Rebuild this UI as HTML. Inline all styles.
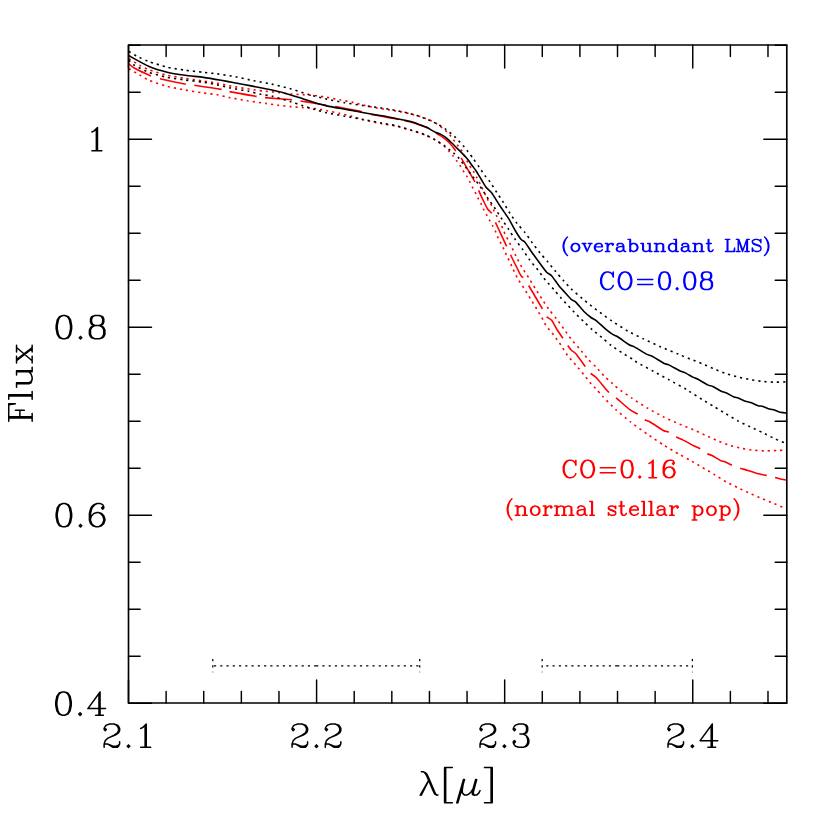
<!DOCTYPE html>
<html><head><meta charset="utf-8"><title>CO flux</title>
<style>html,body{margin:0;padding:0;background:#fff;font-family:"Liberation Sans",sans-serif}svg{display:block}</style></head>
<body>
<svg width="830" height="830" viewBox="0 0 830 830">
<rect width="830" height="830" fill="#fff"/>
<g fill="none" stroke-linejoin="round">
<path d="M128.9 58.7C130.08 59.43 137.26 64.06 139.5 65.3C141.74 66.54 146.02 68.8 149.1 69.9C152.18 71 163.19 74.27 167.2 75.2C171.21 76.13 181.19 77.66 185.2 78.3C189.21 78.94 199.72 80.47 203.3 81C206.88 81.53 214.49 82.57 217.4 83.1C220.31 83.63 225.48 85.06 229.5 85.8C233.52 86.54 249.59 89.19 253.6 89.8C257.61 90.41 262.92 91.01 265.6 91.3C268.28 91.59 274.89 92.1 277.7 92.4C280.51 92.7 288.09 93.73 290.9 94C293.71 94.27 300.32 94.63 303 94.8C305.68 94.97 312.37 95.22 315 95.5C317.63 95.78 323.86 96.8 326.7 97.3C329.54 97.8 337.68 99.43 340.6 100C343.52 100.57 350.28 101.79 353 102.4C355.72 103.01 362.42 104.87 365.1 105.5C367.78 106.13 374.41 107.61 377.1 108.1C379.79 108.59 386.76 109.51 389.3 109.9C391.84 110.29 397.62 111.16 400 111.6C402.38 112.04 407.91 113.17 410.7 113.9C413.49 114.63 422.16 117.08 425.1 118.2C428.04 119.32 434.79 122.49 437.2 124C439.61 125.51 445.27 130.42 446.8 131.8C448.33 133.18 450.13 135.33 451 136.4C451.87 137.47 453.79 140.3 454.6 141.4C455.41 142.5 457.49 145.22 458.3 146.3C459.11 147.38 460.83 149.29 461.9 151.1C462.97 152.91 466.89 160.72 467.9 162.6C468.91 164.48 470.29 166.89 471 168C471.71 169.11 473.62 171.49 474.3 172.6C474.98 173.71 476.42 176.7 477.1 178C477.78 179.3 479.17 181.79 480.4 184.3C481.63 186.81 486.93 198.22 488.2 200.6C489.47 202.98 491.13 204.5 491.8 205.7C492.47 206.9 493.6 210.16 494.2 211.4C494.8 212.64 496.6 215.69 497.2 216.9C497.8 218.11 498.99 221.03 499.6 222.3C500.21 223.57 502.09 226.97 502.7 228.3C503.31 229.63 504.5 233.02 505.1 234.3C505.7 235.58 507.43 238.52 508.1 239.8C508.77 241.08 510.23 244.01 511.1 245.8C511.97 247.59 514.7 253.51 515.9 255.9C517.1 258.29 520.49 264.89 521.9 267.3C523.31 269.71 527.12 275.26 528.6 277.6C530.08 279.94 533.73 286.06 535.2 288.4C536.67 290.74 540.27 296.36 541.8 298.7C543.33 301.04 547.36 307.24 549 309.5C550.64 311.76 554.92 316.81 556.6 319C558.28 321.19 562.47 326.93 564.1 329.2C565.73 331.47 569.56 337.2 571.3 339.4C573.04 341.6 577.99 346.86 579.8 349C581.61 351.14 585.8 356.69 587.6 358.7C589.4 360.71 594.16 365.18 596 367.1C597.84 369.02 602.39 374.19 604.2 376C606.01 377.81 610.82 382.06 612.3 383.4C613.78 384.74 615.32 386.46 617.5 388.1C619.68 389.74 628.53 395.96 631.9 398.2C635.27 400.44 644.27 406.21 647.8 408.3C651.33 410.39 660.17 415.23 663.7 417C667.23 418.77 676.28 422.78 679.6 424.2C682.92 425.62 690.7 428.56 693.6 429.8C696.5 431.04 703.02 434.18 705.7 435.4C708.38 436.62 715.02 439.69 717.7 440.8C720.38 441.91 727.12 444.56 729.8 445.4C732.48 446.24 739.12 447.86 741.8 448.4C744.48 448.94 751.22 450.02 753.9 450.3C756.58 450.58 763.22 450.88 765.9 450.9C768.58 450.92 775.68 450.6 778 450.5C780.32 450.4 785.82 450.06 786.8 450" stroke="#f00" stroke-width="1.6" stroke-dasharray="2.15 4.02 2.15 4.02 2.15 4.02 2.15 4.02 2.15 4.02 2.15 4.02 2.15 4.02 2.15 4.02 2.15 4.02 2.15 4.02 2.15 4.02 2.15 4.02 2.15 4.02 2.15 4.02 2.15 4.02 2.15 4.02 2.15 4.02 2.15 4.02 2.15 4.02 2.15 4.02 2.15 4.02 2.15 4.02 2.15 4.02 2.15 4.02 2.15 4.02 2.15 4.02 2.15 4.02 2.15 4.02 2.15 4.02 2.15 4.02 2.15 4.02 2.15 4.02 2.15 4.02 2.15 4.02 2.15 4.05 2.15 4.05 2.15 4.05 2.15 4.05 2.15 4.05 2.15 4.05 2.15 4.05 2.15 4.05 2.15 4.05 2.15 4.05 2.15 4.05 2.15 4.05 2.15 4.05 2.15 4.05 2.15 4.05 2.15 4.05 2.15 4.05 2.15 4.05 2.15 4.05 2.15 4.05 2.15 4.05 2.15 4.05 2.15 4.05 2.15 4.05 2.15 4.05 2.15 4.05 2.15 4.05 2.15 4.05 2.15 4.05 2.15 4.05 2.15 4.05 2.15 4.05 2.15 4.05 2.15 4.05 2.15 4.05 2.15 4.05 2.15 4.05 2.15 4.05 2.15 4.05 2.15 4.05 2.15 4.05 2.15 4.05 2.15 4.05 2.15 4.05 2.15 4.05 2.15 4.05 2.15 4.05 2.15 4.05 2.15 4.05 2.15 4.05 2.15 4.05 2.15 4.05 2.15 4.05 2.15 4.05 2.15 4.05 2.15 4.05 2.15 4.05 2.15 4.05 2.15 4.05 2.15 4.05 2.15 4.05 2.15 4.05 2.15 4.05 2.15 4.05 2.15 4.05 2.15 4.05 2.15 4.05 2.15 4.05 2.15 4.05 2.15 4.05 2.15 4.05 2.15 4.05 2.15 4.05 2.15 4.05 2.15 4.05 2.15 4.05 2.15 4.05 2.15 4.05 2.15 4.05 2.15 4.05 2.15 4.05 2.15 4.05 2.15 4.05 2.15 4.05 2.15 4.05 2.15 4.05 2.15 4.05 2.15 4.05 2.15 4.05 2.15 4.05 2.15 4.05 2.15 4.05 2.15 4.05 2.15 4.05 2.15 4.05 2.15 4.05 2.15 4.05 2.15 4.05 2.15 4.05 2.15 40"/>
<path d="M128.9 68.7C130.08 69.39 137.26 73.6 139.5 74.9C141.74 76.2 146.02 79.12 149.1 80.4C152.18 81.68 163.19 85.33 167.2 86.4C171.21 87.47 181.19 89.27 185.2 90C189.21 90.73 199.72 92.47 203.3 93C206.88 93.53 214.49 94.29 217.4 94.8C220.31 95.31 226.16 96.93 229.5 97.6C232.84 98.27 243.49 100.16 247.5 100.8C251.51 101.44 262.24 102.91 265.6 103.4C268.96 103.89 274.89 104.84 277.7 105.2C280.51 105.56 288.09 106.33 290.9 106.6C293.71 106.87 300.32 107.38 303 107.6C305.68 107.82 312.37 108.26 315 108.6C317.63 108.94 323.99 110.17 326.7 110.7C329.41 111.23 336.62 112.79 339.4 113.4C342.18 114.01 349.04 115.5 351.7 116.2C354.36 116.9 359.97 118.87 363.3 119.7C366.63 120.53 378.18 123.01 381.7 123.7C385.22 124.39 391.78 125.18 395 125.9C398.22 126.62 407.36 129.2 410.7 130.2C414.04 131.2 422.42 133.83 425.1 134.9C427.78 135.97 432.59 138.47 434.8 139.8C437.01 141.13 443.41 145.6 445 146.9C446.59 148.2 448.18 150.47 449.1 151.5C450.02 152.53 452.42 155.11 453.3 156.2C454.18 157.29 456.19 160.16 457 161.3C457.81 162.44 459.82 165.31 460.6 166.5C461.38 167.69 463.27 170.86 464 172C464.73 173.14 466.52 175.63 467.2 176.8C467.88 177.97 469.44 181.19 470.1 182.5C470.76 183.81 472.43 187.32 473.1 188.6C473.77 189.88 475.49 192.8 476.1 194C476.71 195.2 477.99 198.2 478.6 199.4C479.21 200.6 481 203.6 481.6 204.8C482.2 206 483.4 208.99 484 210.2C484.6 211.41 486.33 214.49 487 215.7C487.67 216.91 489.33 219.9 490 221.1C490.67 222.3 492.33 225.23 493 226.5C493.67 227.77 495.4 231.16 496 232.5C496.6 233.84 497.83 237.37 498.4 238.6C498.97 239.83 500.49 242.4 501.1 243.6C501.71 244.8 503.32 248.17 503.9 249.4C504.48 250.63 505.43 252.84 506.3 254.7C507.17 256.56 510.5 263.56 511.7 266.1C512.9 268.64 515.77 275.19 517.1 277.6C518.43 280.01 522.22 285.46 523.7 287.8C525.18 290.14 528.92 296.29 530.4 298.7C531.88 301.11 535.6 307.16 537 309.5C538.4 311.84 542 318.02 543 319.8C544 321.58 544.79 323.79 546 325.5C547.21 327.21 552.22 332.99 553.9 335.2C555.58 337.41 559.57 343.12 561.1 345.4C562.63 347.68 566.03 353.49 567.7 355.7C569.37 357.91 574.29 363.17 576.1 365.3C577.91 367.43 582.31 372.82 584 374.9C585.69 376.98 589.97 382.46 591.3 384C592.63 385.54 594.7 387.39 596 388.8C597.3 390.21 600.78 394.37 603 396.7C605.22 399.03 613.11 407.14 616 409.8C618.89 412.46 627.2 419.1 629 420.6C630.8 422.1 630.17 421.8 632.2 423.3C634.23 424.8 643.84 431.7 647.3 434.1C650.76 436.5 659.76 442.66 663.3 444.9C666.84 447.14 676.23 452.6 679.2 454.3C682.17 456 687.47 458.77 690 460.2C692.53 461.63 699.32 465.62 702 467.2C704.68 468.78 711.42 472.77 714.1 474.4C716.78 476.03 723.42 480.4 726.1 481.9C728.78 483.4 735.52 486.61 738.2 487.9C740.88 489.19 747.52 492.3 750.2 493.5C752.88 494.7 759.62 497.57 762.3 498.7C764.98 499.83 771.58 502.56 774.3 503.7C777.02 504.84 785.41 508.41 786.8 509" stroke="#f00" stroke-width="1.6" stroke-dasharray="2.15 4.01 2.15 4.01 2.15 4.01 2.15 4.01 2.15 4.01 2.15 4.01 2.15 4.01 2.15 4.01 2.15 4.01 2.15 4.01 2.15 4.01 2.15 4.01 2.15 4.01 2.15 4.01 2.15 4.01 2.15 4.01 2.15 4.01 2.15 4.01 2.15 4.01 2.15 4.01 2.15 4.01 2.15 4.01 2.15 4.01 2.15 4.01 2.15 4.01 2.15 4.01 2.15 4.01 2.15 4.01 2.15 4.01 2.15 4.01 2.15 4.01 2.15 4.01 2.15 4.01 2.15 4.01 2.15 4.05 2.15 4.05 2.15 4.05 2.15 4.05 2.15 4.05 2.15 4.05 2.15 4.05 2.15 4.05 2.15 4.05 2.15 4.05 2.15 4.05 2.15 4.05 2.15 4.05 2.15 4.05 2.15 4.05 2.15 4.05 2.15 4.05 2.15 4.05 2.15 4.05 2.15 4.05 2.15 4.05 2.15 4.05 2.15 4.05 2.15 4.05 2.15 4.05 2.15 4.05 2.15 4.05 2.15 4.05 2.15 4.05 2.15 4.05 2.15 4.05 2.15 4.05 2.15 4.05 2.15 4.05 2.15 4.05 2.15 4.05 2.15 4.05 2.15 4.05 2.15 4.05 2.15 4.05 2.15 4.05 2.15 4.05 2.15 4.05 2.15 4.05 2.15 4.05 2.15 4.05 2.15 4.05 2.15 4.05 2.15 4.05 2.15 4.05 2.15 4.05 2.15 4.05 2.15 4.05 2.15 4.05 2.15 4.05 2.15 4.05 2.15 4.05 2.15 4.05 2.15 4.05 2.15 4.05 2.15 4.05 2.15 4.05 2.15 4.05 2.15 4.05 2.15 4.05 2.15 4.05 2.15 4.05 2.15 4.05 2.15 4.05 2.15 4.05 2.15 4.05 2.15 4.05 2.15 4.05 2.15 4.05 2.15 4.05 2.15 4.05 2.15 4.05 2.15 4.05 2.15 4.05 2.15 4.05 2.15 4.05 2.15 4.05 2.15 4.05 2.15 4.05 2.15 4.05 2.15 4.05 2.15 4.05 2.15 4.05 2.15 4.05 2.15 4.05 2.15 4.05 2.15 4.05 2.15 4.05 2.15 4.05 2.15 4.05 2.15 4.05 2.15 4.05 2.15 4.05 2.15 4.05 2.15 4.05 2.15 4.05 2.15 4.05 2.15 40"/>
<path d="M128.9 63.9C129.53 64.39 132.16 66.97 134.6 68.3C137.04 69.63 148.09 74.73 150.9 75.9C153.71 77.07 156.02 77.88 159.9 78.8C163.78 79.72 181.98 83.49 185.8 84.2C189.62 84.91 190.34 84.62 194.3 85.2C198.26 85.78 217.49 88.69 221.4 89.4C225.31 90.11 225.59 90.82 229.5 91.6C233.41 92.38 252.66 95.73 256.6 96.4C260.54 97.07 261.06 97.22 265 97.6C268.94 97.98 288.16 99.42 292.1 99.8C296.04 100.18 299.07 100.8 300.5 101C301.93 101.2 302.83 101.23 305 101.6C307.17 101.97 316.67 103.74 320 104.3C323.33 104.86 331.89 106.08 335 106.6C338.11 107.12 345.04 108.44 348 109C350.96 109.56 359.04 110.99 361.6 111.6C364.16 112.21 368.51 113.94 371 114.5C373.49 115.06 381 116.06 384 116.6C387 117.14 395.03 118.81 398 119.4C400.97 119.99 408.26 121.28 410.7 121.9C413.14 122.52 418.17 124.34 420 125C421.83 125.66 425.87 127.17 427.2 127.8C428.53 128.43 430.99 130.08 432 130.7C433.01 131.32 435.22 132.77 436.3 133.4C437.38 134.03 440.3 135.39 441.7 136.4C443.1 137.41 447.61 141.28 448.9 142.5C450.19 143.72 452.53 146.46 453.3 147.4C454.07 148.34 454.93 149.84 455.8 151C456.67 152.16 459.74 155.7 461.1 157.8C462.46 159.9 466.47 167.22 468 169.9C469.53 172.58 473.72 179.62 474.9 181.9C476.08 184.18 477.7 188.39 478.6 190.4C479.5 192.41 482 197.93 483 200C484 202.07 486.62 207.52 487.6 209C488.58 210.48 490.93 211.82 491.8 213.3C492.67 214.78 494.6 220.44 495.4 222.3C496.2 224.16 497.79 227.4 499 230C500.21 232.6 505.02 242.96 506.3 245.7C507.58 248.44 508.9 251.42 510.5 254.7C512.1 257.98 519.3 272.66 520.7 275.2C522.1 277.74 522.22 276.47 523.1 277.6C523.98 278.73 526.46 281.92 528.6 285.4C530.74 288.88 540.4 305.43 542.4 308.9C544.4 312.37 545.57 315.33 546.6 316.6C547.63 317.87 550.56 318.87 551.7 320.3C552.84 321.73 555.66 327.51 556.9 329.5C558.14 331.49 561.7 336.43 562.9 338.2C564.1 339.97 566.77 344.07 567.7 345.4C568.63 346.73 570.37 349.26 571.3 350.2C572.23 351.14 574.56 352.09 576.1 353.9C577.64 355.71 583.59 364.34 585.2 366.5C586.81 368.66 589.33 372.02 590.6 373.3C591.87 374.58 594.58 375.88 596.6 378C598.62 380.12 606.64 390.19 608.8 392.4C610.96 394.61 613.67 395.99 616 397.9C618.33 399.81 627.41 407.81 629.8 409.6C632.19 411.39 635.84 412.88 637.5 414C639.16 415.12 643.26 418.79 644.7 419.7C646.14 420.61 648.43 421 650.5 422.2C652.57 423.4 661.28 429.39 663.3 430.5C665.32 431.61 667.29 431.48 668.7 432.2C670.11 432.92 674.43 436.14 676 437C677.57 437.86 680.84 438.93 682.8 439.9C684.76 440.87 691.68 444.72 693.6 445.7C695.52 446.68 698.6 447.81 700.1 448.7C701.6 449.59 705.78 452.94 707.1 453.7C708.42 454.46 710.5 454.73 712 455.5C713.5 456.27 719.17 459.91 720.6 460.6C722.03 461.29 723.67 461.2 724.9 461.7C726.13 462.2 730.02 464.39 731.7 465.1C733.38 465.81 738.21 467.51 740 468.1C741.79 468.69 745.99 469.83 747.8 470.4C749.61 470.97 754.22 472.64 756.3 473.2C758.38 473.76 764.43 474.93 766.5 475.4C768.57 475.87 773.22 476.98 774.9 477.4C776.58 477.82 780.28 478.9 781.6 479.2C782.92 479.5 786.22 480 786.8 480.1" stroke="#f00" stroke-width="1.6" stroke-dasharray="25.2 9.47 26.46 8.56 27.53 8.3 27.52 8.49 27.19 8.49 26.36 8.7 26.97 10.15 26.94 6.82 24.77 9.2 27.18 8.62 27.77 9.27 26.7 9.7 26.53 9.22 26.39 9.55 27.25 8.78 27.47 8.65 27.63 8.69 26.51 9.07 27.09 9.06 27.27 8.74 26.82 8.61 27.29 8.83 27.52 8.63 12.22 50"/>
<path d="M128.9 51.4C129.8 51.94 134.76 55.17 137 56.3C139.24 57.43 145.74 60.39 149.1 61.6C152.46 62.81 163.19 66.24 167.2 67.2C171.21 68.16 181.19 69.63 185.2 70.2C189.21 70.77 199.72 71.89 203.3 72.3C206.88 72.71 213.82 73.41 217.4 73.9C220.98 74.39 231.48 75.94 235.5 76.7C239.52 77.46 249.59 79.88 253.6 80.7C257.61 81.52 267.59 83.22 271.6 84.1C275.61 84.98 285.54 87.43 289.7 88.6C293.86 89.77 304.89 93.43 309 94.6C313.11 95.77 322.76 98.2 326.7 99.1C330.64 100 340.48 101.99 344.5 102.7C348.52 103.41 358.79 104.91 362.9 105.5C367.01 106.09 377.93 107.47 381.5 108C385.07 108.53 391.76 109.67 395 110.3C398.24 110.93 407.36 112.81 410.7 113.7C414.04 114.59 422.16 117.16 425.1 118.3C428.04 119.44 434.92 122.79 437.2 124C439.48 125.21 443.6 127.73 445.6 129.2C447.6 130.67 453.19 135.3 455.2 137.2C457.21 139.1 462.31 144.74 463.7 146.3C465.09 147.86 466.61 149.79 467.7 151.2C468.79 152.61 472.21 157.21 473.5 159C474.79 160.79 477.98 165.38 479.3 167.3C480.62 169.22 484.21 174.68 485.4 176.3C486.59 177.92 488.76 180.13 490 181.9C491.24 183.67 495.12 189.92 496.6 192.2C498.08 194.48 501.82 200.06 503.3 202.4C504.78 204.74 508.37 210.96 509.9 213.3C511.43 215.64 515.43 221.38 517.1 223.5C518.77 225.62 523.22 230.27 524.9 232.4C526.58 234.53 530.52 240.42 532.2 242.7C533.88 244.98 538.27 250.77 540 252.9C541.73 255.03 546.06 259.82 547.8 261.9C549.54 263.98 553.96 269.52 555.7 271.6C557.44 273.68 561.7 278.6 563.5 280.6C565.3 282.6 569.82 287.62 571.9 289.6C573.98 291.58 579.99 296.54 582.2 298.4C584.41 300.26 589.67 304.62 591.8 306.3C593.93 307.98 599.19 311.89 601.4 313.5C603.61 315.11 608.79 318.86 611.7 320.8C614.61 322.74 624.07 328.99 627.6 331C631.13 333.01 639.81 337.13 643.5 338.9C647.19 340.67 656.94 345.21 660.8 346.9C664.66 348.59 674.96 352.76 678.2 354.1C681.44 355.44 687.36 357.94 690 359C692.64 360.06 699.32 362.5 702 363.6C704.68 364.7 711.42 367.79 714.1 368.9C716.78 370.01 723.42 372.69 726.1 373.6C728.78 374.51 735.52 376.43 738.2 377.1C740.88 377.77 747.52 379.12 750.2 379.6C752.88 380.08 759.62 381.11 762.3 381.4C764.98 381.69 771.58 382.16 774.3 382.2C777.02 382.24 785.41 381.84 786.8 381.8" stroke="#000" stroke-width="1.6" stroke-dasharray="2.15 4 2.15 4 2.15 4 2.15 4 2.15 4 2.15 4 2.15 4 2.15 4 2.15 4 2.15 4 2.15 4 2.15 4 2.15 4 2.15 4 2.15 4 2.15 4 2.15 4 2.15 4 2.15 4 2.15 4 2.15 4 2.15 4 2.15 4 2.15 4 2.15 4 2.15 4 2.15 4 2.15 4 2.15 4 2.15 4 2.15 4 2.15 4 2.15 4 2.15 4 2.15 4.06 2.15 4.06 2.15 4.06 2.15 4.06 2.15 4.06 2.15 4.06 2.15 4.06 2.15 4.06 2.15 4.06 2.15 4.06 2.15 4.06 2.15 4.06 2.15 4.06 2.15 4.06 2.15 4.06 2.15 4.06 2.15 4.06 2.15 4.06 2.15 4.06 2.15 4.06 2.15 4.06 2.15 4.06 2.15 4.06 2.15 4.06 2.15 4.06 2.15 4.06 2.15 4.06 2.15 4.06 2.15 4.06 2.15 4.06 2.15 4.06 2.15 4.06 2.15 4.06 2.15 4.06 2.15 4.06 2.15 4.06 2.15 4.06 2.15 4.06 2.15 4.06 2.15 4.06 2.15 4.06 2.15 4.06 2.15 4.06 2.15 4.06 2.15 4.06 2.15 4.06 2.15 4.06 2.15 4.06 2.15 4.06 2.15 4.06 2.15 4.06 2.15 4.06 2.15 4.06 2.15 4.06 2.15 4.06 2.15 4.06 2.15 4.06 2.15 4.06 2.15 4.06 2.15 4.06 2.15 4.06 2.15 4.06 2.15 4.06 2.15 4.06 2.15 4.06 2.15 4.06 2.15 4.06 2.15 4.06 2.15 4.06 2.15 4.06 2.15 4.06 2.15 4.06 2.15 4.06 2.15 4.06 2.15 4.06 2.15 4.06 2.15 4.06 2.15 4.06 2.15 4.06 2.15 4.05 2.15 4.05 2.15 4.05 2.15 4.05 2.15 4.05 2.15 4.05 2.15 4.05 2.15 4.05 2.15 4.05 2.15 4.05 2.15 4.05 2.15 40"/>
<path d="M128.9 60.2C129.4 60.7 131.16 63.33 133.4 64.7C135.64 66.07 145.34 71.1 149.1 72.5C152.86 73.9 163.19 76.47 167.2 77.3C171.21 78.13 181.19 79.46 185.2 80C189.21 80.54 199.72 81.66 203.3 82.2C206.88 82.74 214.36 84.26 217.4 84.9C220.44 85.54 227.22 87.29 230.7 88C234.18 88.71 245.36 90.6 248.7 91.3C252.04 92 258.12 93.73 260.8 94.3C263.48 94.87 269.46 95.57 272.8 96.4C276.14 97.23 287.54 100.77 290.9 101.8C294.26 102.83 300.32 104.83 303 105.7C305.68 106.57 312.37 108.81 315 109.6C317.63 110.39 323.39 112.07 326.7 112.8C330.01 113.53 340.73 115.44 344.8 116.2C348.87 116.96 359.2 118.83 363.3 119.6C367.4 120.37 378.18 122.44 381.7 123.1C385.22 123.76 391.78 124.73 395 125.5C398.22 126.27 407.36 128.97 410.7 130C414.04 131.03 422.42 133.73 425.1 134.8C427.78 135.87 432.66 138.39 434.8 139.6C436.94 140.81 442.67 144.49 444.4 145.7C446.13 146.91 449.28 149.6 450.4 150.5C451.52 151.4 453.53 152.92 454.5 153.8C455.47 154.68 457.83 156.88 459.1 158.4C460.37 159.92 464.28 165.36 465.9 167.5C467.52 169.64 471.96 175.36 473.7 177.7C475.44 180.04 479.99 186.26 481.6 188.6C483.21 190.94 486.67 196.53 488.2 198.8C489.73 201.07 493.87 206.72 495.4 209C496.93 211.28 500.52 217.03 502 219.3C503.48 221.57 507.22 227.14 508.7 229.4C510.18 231.66 513.77 237.39 515.3 239.6C516.83 241.81 520.89 247.02 522.5 249.3C524.11 251.58 528.06 257.76 529.8 260.1C531.54 262.44 536.47 268.19 538.2 270.4C539.93 272.61 543.66 277.87 545.4 280C547.14 282.13 552.16 287.59 553.9 289.6C555.64 291.61 559.76 296.58 561.1 298.1C562.44 299.62 564.53 301.72 566 303.3C567.47 304.88 572.37 310.3 574.3 312.3C576.23 314.3 581.39 319.36 583.4 321.3C585.41 323.24 590.33 327.99 592.4 329.8C594.47 331.61 599.92 335.87 602 337.6C604.08 339.33 608.89 343.72 611.1 345.4C613.31 347.08 619.49 351.16 621.9 352.7C624.31 354.24 631.04 358.18 632.8 359.3C634.56 360.42 635.39 361.46 637.7 362.8C640.01 364.14 650.07 369.48 653.6 371.4C657.13 373.32 665.97 378.17 669.5 380.1C673.03 382.03 683.12 387.5 685.4 388.8C687.68 390.1 688.16 390.62 690 391.8C691.84 392.98 699.32 397.76 702 399.4C704.68 401.04 711.42 404.99 714.1 406.6C716.78 408.21 723.42 412.29 726.1 413.9C728.78 415.51 735.52 419.67 738.2 421.1C740.88 422.53 747.52 425.53 750.2 426.8C752.88 428.07 759.62 431.2 762.3 432.5C764.98 433.8 771.58 437.24 774.3 438.5C777.02 439.76 785.41 443.21 786.8 443.8" stroke="#000" stroke-width="1.6" stroke-dasharray="2.15 4.05 2.15 4.05 2.15 4.05 2.15 4.05 2.15 4.05 2.15 4.05 2.15 4.05 2.15 4.05 2.15 4.05 2.15 4.05 2.15 4.05 2.15 4.05 2.15 4.05 2.15 4.05 2.15 4.05 2.15 4.05 2.15 4.05 2.15 4.05 2.15 4.05 2.15 4.05 2.15 4.05 2.15 4.05 2.15 4.05 2.15 4.05 2.15 4.05 2.15 4.05 2.15 4.05 2.15 4.05 2.15 4.05 2.15 4.05 2.15 4.05 2.15 4.05 2.15 4.05 2.15 4.05 2.15 4.05 2.15 4.05 2.15 4.05 2.15 4.05 2.15 4.05 2.15 4.05 2.15 4.05 2.15 4.05 2.15 4.05 2.15 4.05 2.15 4.05 2.15 4.05 2.15 4.05 2.15 4.05 2.15 4.05 2.15 4.05 2.15 4.05 2.15 4.05 2.15 4.05 2.15 4.05 2.15 4.05 2.15 4.05 2.15 4.05 2.15 4.05 2.15 4.05 2.15 4.05 2.15 4.05 2.15 4.05 2.15 4.05 2.15 4.05 2.15 4.05 2.15 4.05 2.15 4.05 2.15 4.05 2.15 4.05 2.15 4.05 2.15 4.05 2.15 4.05 2.15 4.05 2.15 4.05 2.15 4.05 2.15 4.05 2.15 4.05 2.15 4.05 2.15 4.05 2.15 4.05 2.15 4.05 2.15 4.05 2.15 4.05 2.15 4.05 2.15 4.05 2.15 4.05 2.15 4.05 2.15 4.05 2.15 4.05 2.15 4.05 2.15 4.05 2.15 4.05 2.15 4.05 2.15 4.05 2.15 4.05 2.15 4.05 2.15 4.05 2.15 4.05 2.15 4.05 2.15 4.05 2.15 4.05 2.15 4.05 2.15 4.05 2.15 4.05 2.15 4.05 2.15 4.05 2.15 4.05 2.15 4.05 2.15 4.05 2.15 4.05 2.15 4.05 2.15 4.05 2.15 4.05 2.15 4.05 2.15 4.05 2.15 4.05 2.15 4.05 2.15 4.05 2.15 4.05 2.15 4.05 2.15 4.05 2.15 4.05 2.15 4.05 2.15 4.05 2.15 4.05 2.15 4.05 2.15 4.05 2.15 40"/>
<path d="M128.9 55.7C131.14 56.9 144.84 64.67 149.1 66.5C153.36 68.33 163.19 71.22 167.2 72.2C171.21 73.18 181.19 74.72 185.2 75.3C189.21 75.88 199.31 76.84 203.3 77.4C207.29 77.96 217.79 79.73 221.1 80.3C224.41 80.87 229.77 81.88 233.1 82.5C236.43 83.12 247.22 85.16 251.1 85.9C254.98 86.64 264.51 88.48 268 89.2C271.49 89.92 279.02 91.47 282.5 92.4C285.98 93.33 296.8 96.8 299.3 97.6C301.8 98.4 303.26 99.03 305 99.6C306.74 100.17 312.32 101.94 315 102.7C317.68 103.46 325.52 105.63 329.1 106.4C332.68 107.17 343.19 108.87 347.2 109.6C351.21 110.33 361.19 112.29 365.2 113C369.21 113.71 379.99 115.41 383.3 116C386.61 116.59 391.96 117.68 395 118.3C398.04 118.92 407.92 120.88 410.7 121.6C413.48 122.32 418.17 124.13 420 124.8C421.83 125.47 425.87 126.98 427.2 127.6C428.53 128.22 431.01 129.84 432 130.4C432.99 130.96 435.22 132.21 436.1 132.6C436.98 132.99 438.88 133.4 439.9 133.9C440.92 134.4 443.98 136.09 445.3 137.1C446.62 138.11 450.28 141.56 451.8 143C453.32 144.44 457.56 148.66 459 150.1C460.44 151.54 463.78 154.9 464.8 156C465.82 157.1 467.41 158.98 468.2 160C468.99 161.02 471 163.96 471.9 165.2C472.8 166.44 475.29 169.67 476.3 171.2C477.31 172.73 479.94 177.24 481 179C482.06 180.76 484.64 185.49 485.8 187C486.96 188.51 489.8 190.47 491.4 192.6C493 194.73 498.28 203.3 500.2 206.2C502.12 209.1 507.07 216.06 508.7 218.7C510.33 221.34 513.54 227.72 514.9 230C516.26 232.28 519.76 237.82 520.9 239.2C522.04 240.58 524.04 241.03 525.2 242.4C526.36 243.77 529.59 249.07 531.3 251.5C533.01 253.93 538.9 262 540.6 264.3C542.3 266.6 545.4 270.96 546.6 272.2C547.8 273.44 550.06 274.03 551.4 275.5C552.74 276.97 557.24 283.57 558.7 285.4C560.16 287.23 563.07 290.41 564.5 292C565.93 293.59 570.34 298.58 571.6 299.7C572.86 300.82 574.46 300.82 575.8 302.1C577.14 303.38 582.01 309.49 583.7 311.2C585.39 312.91 589.58 316.43 591 317.5C592.42 318.57 594.93 319.57 596.5 320.8C598.07 322.03 603.34 327.11 605.1 328.6C606.86 330.09 610.94 333.32 612.3 334.2C613.66 335.08 615.43 335.33 617.3 336.5C619.17 337.67 627.16 343.52 629.1 344.7C631.04 345.88 632.88 346.06 634.8 347.1C636.72 348.14 644.47 353.08 646.4 354.1C648.33 355.12 650.28 355.29 652.2 356.3C654.12 357.31 661.86 362.24 663.7 363.2C665.54 364.16 667.03 364.07 668.8 364.9C670.57 365.73 677.83 369.84 679.6 370.7C681.37 371.56 683.17 371.86 684.7 372.6C686.23 373.34 691.98 376.69 693.4 377.4C694.82 378.11 695.92 378.17 697.5 379C699.08 379.83 705.89 384.07 707.6 384.9C709.31 385.73 711.44 385.82 712.9 386.5C714.36 387.18 719.23 390.3 720.7 391C722.17 391.7 724.62 392.13 726.1 392.8C727.58 393.47 732.66 396.42 734 397C735.34 397.58 736.93 397.53 738.2 398C739.47 398.47 743.93 400.67 745.4 401.2C746.87 401.73 749.99 402.3 751.4 402.8C752.81 403.3 756.89 405.32 758.1 405.7C759.31 406.08 761.03 405.83 762.3 406.2C763.57 406.57 768.17 408.58 769.5 409C770.83 409.42 773.22 409.67 774.3 410C775.38 410.33 777.81 411.66 779.2 412C780.59 412.34 785.96 412.98 786.8 413.1" stroke="#000" stroke-width="1.6"/>
</g>
<g fill="none" stroke="#000"><path d="M314.1 665.8h2.2M307.84 665.8h2.2M301.58 665.8h2.2M295.32 665.8h2.2M289.06 665.8h2.2M282.8 665.8h2.2M276.54 665.8h2.2M270.28 665.8h2.2M264.02 665.8h2.2M257.76 665.8h2.2M251.5 665.8h2.2M245.24 665.8h2.2M238.98 665.8h2.2M232.72 665.8h2.2M226.46 665.8h2.2M220.2 665.8h2.2M213.94 665.8h2.2M316.1 665.8h2.2M322.36 665.8h2.2M328.62 665.8h2.2M334.88 665.8h2.2M341.14 665.8h2.2M347.4 665.8h2.2M353.66 665.8h2.2M359.92 665.8h2.2M366.18 665.8h2.2M372.44 665.8h2.2M378.7 665.8h2.2M384.96 665.8h2.2M391.22 665.8h2.2M397.48 665.8h2.2M403.74 665.8h2.2M410 665.8h2.2M416.26 665.8h2.2" stroke-width="1.35"/><path d="M212.8 659.0v2.2M212.8 665.3v2.2M419.7 659.0v2.2M419.7 665.3v2.2" stroke-width="1.25"/><path d="M212.8 671.6v0.9M419.7 671.6v0.9" stroke-width="1.1" stroke-opacity="0.6"/><path d="M615.1 665.8h2.2M608.84 665.8h2.2M602.58 665.8h2.2M596.32 665.8h2.2M590.06 665.8h2.2M583.8 665.8h2.2M577.54 665.8h2.2M571.28 665.8h2.2M565.02 665.8h2.2M558.76 665.8h2.2M552.5 665.8h2.2M546.24 665.8h2.2M617.1 665.8h2.2M623.36 665.8h2.2M629.62 665.8h2.2M635.88 665.8h2.2M642.14 665.8h2.2M648.4 665.8h2.2M654.66 665.8h2.2M660.92 665.8h2.2M667.18 665.8h2.2M673.44 665.8h2.2M679.7 665.8h2.2M685.96 665.8h2.2" stroke-width="1.35"/><path d="M542.2 659.0v2.2M542.2 665.3v2.2M692.4 659.0v2.2M692.4 665.3v2.2" stroke-width="1.25"/><path d="M542.2 671.6v0.9M692.4 671.6v0.9" stroke-width="1.1" stroke-opacity="0.6"/></g>
<path d="M128.5 702.95v-23.0M128.5 44.95v23.0M166.12 702.95v-11.6M166.12 44.95v11.6M203.73 702.95v-11.6M203.73 44.95v11.6M241.35 702.95v-11.6M241.35 44.95v11.6M278.97 702.95v-11.6M278.97 44.95v11.6M316.59 702.95v-23.0M316.59 44.95v23.0M354.2 702.95v-11.6M354.2 44.95v11.6M391.82 702.95v-11.6M391.82 44.95v11.6M429.44 702.95v-11.6M429.44 44.95v11.6M467.05 702.95v-11.6M467.05 44.95v11.6M504.67 702.95v-23.0M504.67 44.95v23.0M542.29 702.95v-11.6M542.29 44.95v11.6M579.91 702.95v-11.6M579.91 44.95v11.6M617.52 702.95v-11.6M617.52 44.95v11.6M655.14 702.95v-11.6M655.14 44.95v11.6M692.76 702.95v-23.0M692.76 44.95v23.0M730.37 702.95v-11.6M730.37 44.95v11.6M767.99 702.95v-11.6M767.99 44.95v11.6M128.5 703.15h23.0M786.8 703.15h-23.0M128.5 656.15h11.6M786.8 656.15h-11.6M128.5 609.15h11.6M786.8 609.15h-11.6M128.5 562.15h11.6M786.8 562.15h-11.6M128.5 515.15h23.0M786.8 515.15h-23.0M128.5 468.15h11.6M786.8 468.15h-11.6M128.5 421.15h11.6M786.8 421.15h-11.6M128.5 374.15h11.6M786.8 374.15h-11.6M128.5 327.15h23.0M786.8 327.15h-23.0M128.5 280.15h11.6M786.8 280.15h-11.6M128.5 233.15h11.6M786.8 233.15h-11.6M128.5 186.15h11.6M786.8 186.15h-11.6M128.5 139.15h23.0M786.8 139.15h-23.0M128.5 92.15h11.6M786.8 92.15h-11.6M128.5 45.15h11.6M786.8 45.15h-11.6" fill="none" stroke="#000" stroke-width="1.45" stroke-linecap="round"/>
<rect x="128.5" y="44.95" width="658.3" height="658" fill="none" stroke="#000" stroke-width="1.65" stroke-linejoin="round"/>
<path d="M105.23 728.46L106.34 729.57L105.23 730.68L104.12 729.57L104.12 728.46L105.23 726.25L106.34 725.14L109.66 724.03L114.1 724.03L117.42 725.14L118.53 726.25L119.64 728.46L119.64 730.68L118.53 732.9L115.2 735.11L109.66 737.33L107.45 738.44L105.23 740.65L104.12 743.98L104.12 747.3M114.1 724.03L116.31 725.14L117.42 726.25L118.53 728.46L118.53 730.68L117.42 732.9L114.1 735.11L109.66 737.33M104.12 745.08L105.23 743.98L107.45 743.98L112.99 746.19L116.31 746.19L118.53 745.08L119.64 743.98M107.45 743.98L112.99 747.3L117.42 747.3L118.53 746.19L119.64 743.98L119.64 741.76M128.5 744.92L127.23 746.19L128.5 747.47L129.77 746.19L128.5 744.92M140.69 728.46L142.9 727.36L146.23 724.03L146.23 747.3M145.12 725.14L145.12 747.3M140.69 747.3L150.66 747.3M293.19 728.46L294.3 729.57L293.19 730.68L292.08 729.57L292.08 728.46L293.19 726.25L294.3 725.14L297.62 724.03L302.05 724.03L305.38 725.14L306.48 726.25L307.59 728.46L307.59 730.68L306.48 732.9L303.16 735.11L297.62 737.33L295.4 738.44L293.19 740.65L292.08 743.98L292.08 747.3M302.05 724.03L304.27 725.14L305.38 726.25L306.48 728.46L306.48 730.68L305.38 732.9L302.05 735.11L297.62 737.33M292.08 745.08L293.19 743.98L295.4 743.98L300.94 746.19L304.27 746.19L306.48 745.08L307.59 743.98M295.4 743.98L300.94 747.3L305.38 747.3L306.48 746.19L307.59 743.98L307.59 741.76M316.46 744.92L315.18 746.19L316.46 747.47L317.73 746.19L316.46 744.92M326.43 728.46L327.54 729.57L326.43 730.68L325.32 729.57L325.32 728.46L326.43 726.25L327.54 725.14L330.86 724.03L335.29 724.03L338.62 725.14L339.72 726.25L340.83 728.46L340.83 730.68L339.72 732.9L336.4 735.11L330.86 737.33L328.64 738.44L326.43 740.65L325.32 743.98L325.32 747.3M335.29 724.03L337.51 725.14L338.62 726.25L339.72 728.46L339.72 730.68L338.62 732.9L335.29 735.11L330.86 737.33M325.32 745.08L326.43 743.98L328.64 743.98L334.18 746.19L337.51 746.19L339.72 745.08L340.83 743.98M328.64 743.98L334.18 747.3L338.62 747.3L339.72 746.19L340.83 743.98L340.83 741.76M481.14 728.46L482.25 729.57L481.14 730.68L480.04 729.57L480.04 728.46L481.14 726.25L482.25 725.14L485.58 724.03L490.01 724.03L493.33 725.14L494.44 726.25L495.55 728.46L495.55 730.68L494.44 732.9L491.12 735.11L485.58 737.33L483.36 738.44L481.14 740.65L480.04 743.98L480.04 747.3M490.01 724.03L492.22 725.14L493.33 726.25L494.44 728.46L494.44 730.68L493.33 732.9L490.01 735.11L485.58 737.33M480.04 745.08L481.14 743.98L483.36 743.98L488.9 746.19L492.22 746.19L494.44 745.08L495.55 743.98M483.36 743.98L488.9 747.3L493.33 747.3L494.44 746.19L495.55 743.98L495.55 741.76M504.41 744.92L503.14 746.19L504.41 747.47L505.69 746.19L504.41 744.92M514.38 728.46L515.49 729.57L514.38 730.68L513.28 729.57L513.28 728.46L514.38 726.25L515.49 725.14L518.82 724.03L523.25 724.03L526.57 725.14L527.68 727.36L527.68 730.68L526.57 732.9L523.25 734L519.92 734M523.25 724.03L525.46 725.14L526.57 727.36L526.57 730.68L525.46 732.9L523.25 734M523.25 734L525.46 735.11L527.68 737.33L528.79 739.54L528.79 742.87L527.68 745.08L526.57 746.19L523.25 747.3L518.82 747.3L515.49 746.19L514.38 745.08L513.28 742.87L513.28 741.76L514.38 740.65L515.49 741.76L514.38 742.87M526.57 736.22L527.68 739.54L527.68 742.87L526.57 745.08L525.46 746.19L523.25 747.3M669.1 728.46L670.21 729.57L669.1 730.68L667.99 729.57L667.99 728.46L669.1 726.25L670.21 725.14L673.53 724.03L677.96 724.03L681.29 725.14L682.4 726.25L683.5 728.46L683.5 730.68L682.4 732.9L679.07 735.11L673.53 737.33L671.32 738.44L669.1 740.65L667.99 743.98L667.99 747.3M677.96 724.03L680.18 725.14L681.29 726.25L682.4 728.46L682.4 730.68L681.29 732.9L677.96 735.11L673.53 737.33M667.99 745.08L669.1 743.98L671.32 743.98L676.86 746.19L680.18 746.19L682.4 745.08L683.5 743.98M671.32 743.98L676.86 747.3L681.29 747.3L682.4 746.19L683.5 743.98L683.5 741.76M692.37 744.92L691.09 746.19L692.37 747.47L693.64 746.19L692.37 744.92M711.2 726.25L711.2 747.3M712.31 724.03L712.31 747.3M712.31 724.03L700.12 740.65L717.85 740.65M707.88 747.3L715.64 747.3M91.93 132L94.14 130.89L97.47 127.57L97.47 150.83M96.36 128.67L96.36 150.83M91.93 150.83L101.9 150.83M62.8 315.57L59.47 316.67L57.26 320L56.15 325.54L56.15 328.86L57.26 334.4L59.47 337.73L62.8 338.83L65.01 338.83L68.34 337.73L70.55 334.4L71.66 328.86L71.66 325.54L70.55 320L68.34 316.67L65.01 315.57L62.8 315.57M62.8 315.57L60.58 316.67L59.47 317.78L58.36 320L57.26 325.54L57.26 328.86L58.36 334.4L59.47 336.62L60.58 337.73L62.8 338.83M65.01 338.83L67.23 337.73L68.34 336.62L69.44 334.4L70.55 328.86L70.55 325.54L69.44 320L68.34 317.78L67.23 316.67L65.01 315.57M80.52 336.45L79.25 337.73L80.52 339L81.8 337.73L80.52 336.45M94.93 315.57L91.6 316.67L90.5 318.89L90.5 322.21L91.6 324.43L94.93 325.54L99.36 325.54L102.68 324.43L103.79 322.21L103.79 318.89L102.68 316.67L99.36 315.57L94.93 315.57M94.93 315.57L92.71 316.67L91.6 318.89L91.6 322.21L92.71 324.43L94.93 325.54M99.36 325.54L101.58 324.43L102.68 322.21L102.68 318.89L101.58 316.67L99.36 315.57M94.93 325.54L91.6 326.65L90.5 327.75L89.39 329.97L89.39 334.4L90.5 336.62L91.6 337.73L94.93 338.83L99.36 338.83L102.68 337.73L103.79 336.62L104.9 334.4L104.9 329.97L103.79 327.75L102.68 326.65L99.36 325.54M94.93 325.54L92.71 326.65L91.6 327.75L90.5 329.97L90.5 334.4L91.6 336.62L92.71 337.73L94.93 338.83M99.36 338.83L101.58 337.73L102.68 336.62L103.79 334.4L103.79 329.97L102.68 327.75L101.58 326.65L99.36 325.54M62.8 503.57L59.47 504.67L57.26 508L56.15 513.54L56.15 516.86L57.26 522.4L59.47 525.73L62.8 526.83L65.01 526.83L68.34 525.73L70.55 522.4L71.66 516.86L71.66 513.54L70.55 508L68.34 504.67L65.01 503.57L62.8 503.57M62.8 503.57L60.58 504.67L59.47 505.78L58.36 508L57.26 513.54L57.26 516.86L58.36 522.4L59.47 524.62L60.58 525.73L62.8 526.83M65.01 526.83L67.23 525.73L68.34 524.62L69.44 522.4L70.55 516.86L70.55 513.54L69.44 508L68.34 505.78L67.23 504.67L65.01 503.57M80.52 524.45L79.25 525.73L80.52 527L81.8 525.73L80.52 524.45M102.68 506.89L101.58 508L102.68 509.11L103.79 508L103.79 506.89L102.68 504.67L100.47 503.57L97.14 503.57L93.82 504.67L91.6 506.89L90.5 509.11L89.39 513.54L89.39 520.19L90.5 523.51L92.71 525.73L96.04 526.83L98.25 526.83L101.58 525.73L103.79 523.51L104.9 520.19L104.9 519.08L103.79 515.75L101.58 513.54L98.25 512.43L97.14 512.43L93.82 513.54L91.6 515.75L90.5 519.08M97.14 503.57L94.93 504.67L92.71 506.89L91.6 509.11L90.5 513.54L90.5 520.19L91.6 523.51L93.82 525.73L96.04 526.83M98.25 526.83L100.47 525.73L102.68 523.51L103.79 520.19L103.79 519.08L102.68 515.75L100.47 513.54L98.25 512.43M62.39 691.97L59.06 693.07L56.85 696.4L55.74 701.94L55.74 705.26L56.85 710.8L59.06 714.13L62.39 715.23L64.6 715.23L67.93 714.13L70.14 710.8L71.25 705.26L71.25 701.94L70.14 696.4L67.93 693.07L64.6 691.97L62.39 691.97M62.39 691.97L60.17 693.07L59.06 694.18L57.96 696.4L56.85 701.94L56.85 705.26L57.96 710.8L59.06 713.02L60.17 714.13L62.39 715.23M64.6 715.23L66.82 714.13L67.93 713.02L69.04 710.8L70.14 705.26L70.14 701.94L69.04 696.4L67.93 694.18L66.82 693.07L64.6 691.97M80.12 712.85L78.84 714.13L80.12 715.4L81.39 714.13L80.12 712.85M98.95 694.18L98.95 715.23M100.06 691.97L100.06 715.23M100.06 691.97L87.87 708.59L105.6 708.59M95.63 715.23L103.38 715.23M421.31 771.83L423.52 771.83L425.74 772.94L426.85 774.05L427.96 776.26L434.6 791.78L435.71 793.99L436.82 795.1M423.52 771.83L425.74 774.05L426.85 776.26L433.5 791.78L434.6 793.99L436.82 795.1L437.93 795.1M429.06 779.59L420.2 795.1M429.06 779.59L421.31 795.1M444.58 767.4L444.58 802.86M445.68 767.4L445.68 802.86M444.58 767.4L452.33 767.4M444.58 802.86L452.33 802.86M463.41 779.59L456.76 802.86M464.52 779.59L457.87 802.86M463.41 782.91L462.3 789.56L462.3 792.88L464.52 795.1L466.74 795.1L468.95 793.99L471.17 791.78L473.38 788.45M475.6 779.59L472.28 791.78L472.28 793.99L473.38 795.1L476.71 795.1L478.92 792.88L480.03 790.67M476.71 779.59L473.38 791.78L473.38 793.99L474.49 795.1M491.11 767.4L491.11 802.86M492.22 767.4L492.22 802.86M484.46 767.4L492.22 767.4M484.46 802.86L492.22 802.86M8.73 417.95L32.15 417.95M8.73 416.85L32.15 416.85M15.42 410.25L24.34 410.25M8.73 421.25L8.73 403.65L15.42 403.65L8.73 404.75M19.88 416.85L19.88 410.25M32.15 421.25L32.15 413.55M8.73 395.95L32.15 395.95M8.73 394.85L32.15 394.85M8.73 399.25L8.73 394.85M32.15 399.25L32.15 391.55M16.54 383.85L28.8 383.85L31.04 382.75L32.15 379.45L32.15 377.25L31.04 373.95L28.8 371.75M16.54 382.75L28.8 382.75L31.04 381.65L32.15 379.45M16.54 371.75L32.15 371.75M16.54 370.65L32.15 370.65M16.54 387.15L16.54 382.75M16.54 375.05L16.54 370.65M32.15 371.75L32.15 367.35M16.54 360.75L32.15 348.65M16.54 359.65L32.15 347.55M16.54 347.55L32.15 360.75M16.54 362.95L16.54 356.35M16.54 351.95L16.54 345.35M32.15 362.95L32.15 356.35M32.15 351.95L32.15 345.35" fill="none" stroke="#000" stroke-width="1.5" stroke-linecap="round" stroke-linejoin="round"/>
<path d="M612.46 274.48L613.3 277L613.3 271.96L612.46 274.48L610.78 272.8L608.26 271.96L606.58 271.96L604.06 272.8L602.38 274.48L601.54 276.16L600.7 278.68L600.7 282.88L601.54 285.4L602.38 287.08L604.06 288.76L606.58 289.6L608.26 289.6L610.78 288.76L612.46 287.08L613.3 285.4M606.58 271.96L604.9 272.8L603.22 274.48L602.38 276.16L601.54 278.68L601.54 282.88L602.38 285.4L603.22 287.08L604.9 288.76L606.58 289.6M624.22 271.96L621.7 272.8L620.02 274.48L619.18 276.16L618.34 279.52L618.34 282.04L619.18 285.4L620.02 287.08L621.7 288.76L624.22 289.6L625.9 289.6L628.42 288.76L630.1 287.08L630.94 285.4L631.78 282.04L631.78 279.52L630.94 276.16L630.1 274.48L628.42 272.8L625.9 271.96L624.22 271.96M624.22 271.96L622.54 272.8L620.86 274.48L620.02 276.16L619.18 279.52L619.18 282.04L620.02 285.4L620.86 287.08L622.54 288.76L624.22 289.6M625.9 289.6L627.58 288.76L629.26 287.08L630.1 285.4L630.94 282.04L630.94 279.52L630.1 276.16L629.26 274.48L627.58 272.8L625.9 271.96M637.66 279.52L652.78 279.52M637.66 284.56L652.78 284.56M663.7 271.96L661.18 272.8L659.5 275.32L658.66 279.52L658.66 282.04L659.5 286.24L661.18 288.76L663.7 289.6L665.38 289.6L667.9 288.76L669.58 286.24L670.42 282.04L670.42 279.52L669.58 275.32L667.9 272.8L665.38 271.96L663.7 271.96M663.7 271.96L662.02 272.8L661.18 273.64L660.34 275.32L659.5 279.52L659.5 282.04L660.34 286.24L661.18 287.92L662.02 288.76L663.7 289.6M665.38 289.6L667.06 288.76L667.9 287.92L668.74 286.24L669.58 282.04L669.58 279.52L668.74 275.32L667.9 273.64L667.06 272.8L665.38 271.96M677.14 287.79L676.17 288.76L677.14 289.73L678.11 288.76L677.14 287.79M688.9 271.96L686.38 272.8L684.7 275.32L683.86 279.52L683.86 282.04L684.7 286.24L686.38 288.76L688.9 289.6L690.58 289.6L693.1 288.76L694.78 286.24L695.62 282.04L695.62 279.52L694.78 275.32L693.1 272.8L690.58 271.96L688.9 271.96M688.9 271.96L687.22 272.8L686.38 273.64L685.54 275.32L684.7 279.52L684.7 282.04L685.54 286.24L686.38 287.92L687.22 288.76L688.9 289.6M690.58 289.6L692.26 288.76L693.1 287.92L693.94 286.24L694.78 282.04L694.78 279.52L693.94 275.32L693.1 273.64L692.26 272.8L690.58 271.96M704.86 271.96L702.34 272.8L701.5 274.48L701.5 277L702.34 278.68L704.86 279.52L708.22 279.52L710.74 278.68L711.58 277L711.58 274.48L710.74 272.8L708.22 271.96L704.86 271.96M704.86 271.96L703.18 272.8L702.34 274.48L702.34 277L703.18 278.68L704.86 279.52M708.22 279.52L709.9 278.68L710.74 277L710.74 274.48L709.9 272.8L708.22 271.96M704.86 279.52L702.34 280.36L701.5 281.2L700.66 282.88L700.66 286.24L701.5 287.92L702.34 288.76L704.86 289.6L708.22 289.6L710.74 288.76L711.58 287.92L712.42 286.24L712.42 282.88L711.58 281.2L710.74 280.36L708.22 279.52M704.86 279.52L703.18 280.36L702.34 281.2L701.5 282.88L701.5 286.24L702.34 287.92L703.18 288.76L704.86 289.6M708.22 289.6L709.9 288.76L710.74 287.92L711.58 286.24L711.58 282.88L710.74 281.2L709.9 280.36L708.22 279.52" fill="none" stroke="#00f" stroke-width="1.5" stroke-linecap="round" stroke-linejoin="round"/>
<path d="M567.48 237.07L566.26 238.23L565.04 239.96L563.81 242.27L563.2 245.15L563.2 247.46L563.81 250.35L565.04 252.65L566.26 254.38L567.48 255.54M566.26 238.23L565.04 240.54L564.42 242.27L563.81 245.15L563.81 247.46L564.42 250.35L565.04 252.08L566.26 254.38M574.83 243.42L572.99 244L571.77 245.15L571.16 246.88L571.16 248.04L571.77 249.77L572.99 250.92L574.83 251.5L576.05 251.5L577.89 250.92L579.11 249.77L579.72 248.04L579.72 246.88L579.11 245.15L577.89 244L576.05 243.42L574.83 243.42M574.83 243.42L573.6 244L572.38 245.15L571.77 246.88L571.77 248.04L572.38 249.77L573.6 250.92L574.83 251.5M576.05 251.5L577.28 250.92L578.5 249.77L579.11 248.04L579.11 246.88L578.5 245.15L577.28 244L576.05 243.42M583.4 243.42L587.07 251.5M584.01 243.42L587.07 250.35M590.74 243.42L587.07 251.5M582.17 243.42L585.84 243.42M588.29 243.42L591.96 243.42M595.02 246.88L602.37 246.88L602.37 245.73L601.76 244.58L601.14 244L599.92 243.42L598.08 243.42L596.25 244L595.02 245.15L594.41 246.88L594.41 248.04L595.02 249.77L596.25 250.92L598.08 251.5L599.31 251.5L601.14 250.92L602.37 249.77M601.76 246.88L601.76 245.15L601.14 244M598.08 243.42L596.86 244L595.64 245.15L595.02 246.88L595.02 248.04L595.64 249.77L596.86 250.92L598.08 251.5M607.26 243.42L607.26 251.5M607.88 243.42L607.88 251.5M607.88 246.88L608.49 245.15L609.71 244L610.94 243.42L612.77 243.42L613.38 244L613.38 244.58L612.77 245.15L612.16 244.58L612.77 244M605.43 243.42L607.88 243.42M605.43 251.5L609.71 251.5M617.67 244.58L617.67 245.15L617.06 245.15L617.06 244.58L617.67 244L618.89 243.42L621.34 243.42L622.56 244L623.18 244.58L623.79 245.73L623.79 249.77L624.4 250.92L625.01 251.5M623.18 244.58L623.18 249.77L623.79 250.92L625.01 251.5L625.62 251.5M623.18 245.73L622.56 246.31L618.89 246.88L617.06 247.46L616.44 248.62L616.44 249.77L617.06 250.92L618.89 251.5L620.73 251.5L621.95 250.92L623.18 249.77M618.89 246.88L617.67 247.46L617.06 248.62L617.06 249.77L617.67 250.92L618.89 251.5M629.91 239.38L629.91 251.5M630.52 239.38L630.52 251.5M630.52 245.15L631.74 244L632.97 243.42L634.19 243.42L636.03 244L637.25 245.15L637.86 246.88L637.86 248.04L637.25 249.77L636.03 250.92L634.19 251.5L632.97 251.5L631.74 250.92L630.52 249.77M634.19 243.42L635.42 244L636.64 245.15L637.25 246.88L637.25 248.04L636.64 249.77L635.42 250.92L634.19 251.5M628.07 239.38L630.52 239.38M642.76 243.42L642.76 249.77L643.37 250.92L645.21 251.5L646.43 251.5L648.27 250.92L649.49 249.77M643.37 243.42L643.37 249.77L643.98 250.92L645.21 251.5M649.49 243.42L649.49 251.5M650.1 243.42L650.1 251.5M640.92 243.42L643.37 243.42M647.66 243.42L650.1 243.42M649.49 251.5L651.94 251.5M656.22 243.42L656.22 251.5M656.84 243.42L656.84 251.5M656.84 245.15L658.06 244L659.9 243.42L661.12 243.42L662.96 244L663.57 245.15L663.57 251.5M661.12 243.42L662.34 244L662.96 245.15L662.96 251.5M654.39 243.42L656.84 243.42M654.39 251.5L658.67 251.5M661.12 251.5L665.4 251.5M675.81 239.38L675.81 251.5M676.42 239.38L676.42 251.5M675.81 245.15L674.58 244L673.36 243.42L672.14 243.42L670.3 244L669.08 245.15L668.46 246.88L668.46 248.04L669.08 249.77L670.3 250.92L672.14 251.5L673.36 251.5L674.58 250.92L675.81 249.77M672.14 243.42L670.91 244L669.69 245.15L669.08 246.88L669.08 248.04L669.69 249.77L670.91 250.92L672.14 251.5M673.97 239.38L676.42 239.38M675.81 251.5L678.26 251.5M682.54 244.58L682.54 245.15L681.93 245.15L681.93 244.58L682.54 244L683.76 243.42L686.21 243.42L687.44 244L688.05 244.58L688.66 245.73L688.66 249.77L689.27 250.92L689.88 251.5M688.05 244.58L688.05 249.77L688.66 250.92L689.88 251.5L690.5 251.5M688.05 245.73L687.44 246.31L683.76 246.88L681.93 247.46L681.32 248.62L681.32 249.77L681.93 250.92L683.76 251.5L685.6 251.5L686.82 250.92L688.05 249.77M683.76 246.88L682.54 247.46L681.93 248.62L681.93 249.77L682.54 250.92L683.76 251.5M694.78 243.42L694.78 251.5M695.39 243.42L695.39 251.5M695.39 245.15L696.62 244L698.45 243.42L699.68 243.42L701.51 244L702.12 245.15L702.12 251.5M699.68 243.42L700.9 244L701.51 245.15L701.51 251.5M692.94 243.42L695.39 243.42M692.94 251.5L697.23 251.5M699.68 251.5L703.96 251.5M708.24 239.38L708.24 249.19L708.86 250.92L710.08 251.5L711.3 251.5L712.53 250.92L713.14 249.77M708.86 239.38L708.86 249.19L709.47 250.92L710.08 251.5M706.41 243.42L711.3 243.42M727.22 239.38L727.22 251.5M727.83 239.38L727.83 251.5M725.38 239.38L729.66 239.38M725.38 251.5L734.56 251.5L734.56 248.04L733.95 251.5M738.23 239.38L738.23 251.5M738.84 239.38L742.52 249.77M738.23 239.38L742.52 251.5M746.8 239.38L742.52 251.5M746.8 239.38L746.8 251.5M747.41 239.38L747.41 251.5M736.4 239.38L738.84 239.38M746.8 239.38L749.25 239.38M736.4 251.5L740.07 251.5M744.96 251.5L749.25 251.5M760.26 241.11L760.88 239.38L760.88 242.84L760.26 241.11L759.04 239.96L757.2 239.38L755.37 239.38L753.53 239.96L752.31 241.11L752.31 242.27L752.92 243.42L753.53 244L754.76 244.58L758.43 245.73L759.65 246.31L760.88 247.46M752.31 242.27L753.53 243.42L754.76 244L758.43 245.15L759.65 245.73L760.26 246.31L760.88 247.46L760.88 249.77L759.65 250.92L757.82 251.5L755.98 251.5L754.14 250.92L752.92 249.77L752.31 248.04L752.31 251.5L752.92 249.77M764.55 237.07L765.77 238.23L767 239.96L768.22 242.27L768.83 245.15L768.83 247.46L768.22 250.35L767 252.65L765.77 254.38L764.55 255.54M765.77 238.23L767 240.54L767.61 242.27L768.22 245.15L768.22 247.46L767.61 250.35L767 252.08L765.77 254.38" fill="none" stroke="#00f" stroke-width="1.45" stroke-linecap="round" stroke-linejoin="round"/>
<path d="M575.06 462.68L575.9 465.2L575.9 460.16L575.06 462.68L573.38 461L570.86 460.16L569.18 460.16L566.66 461L564.98 462.68L564.14 464.36L563.3 466.88L563.3 471.08L564.14 473.6L564.98 475.28L566.66 476.96L569.18 477.8L570.86 477.8L573.38 476.96L575.06 475.28L575.9 473.6M569.18 460.16L567.5 461L565.82 462.68L564.98 464.36L564.14 466.88L564.14 471.08L564.98 473.6L565.82 475.28L567.5 476.96L569.18 477.8M586.82 460.16L584.3 461L582.62 462.68L581.78 464.36L580.94 467.72L580.94 470.24L581.78 473.6L582.62 475.28L584.3 476.96L586.82 477.8L588.5 477.8L591.02 476.96L592.7 475.28L593.54 473.6L594.38 470.24L594.38 467.72L593.54 464.36L592.7 462.68L591.02 461L588.5 460.16L586.82 460.16M586.82 460.16L585.14 461L583.46 462.68L582.62 464.36L581.78 467.72L581.78 470.24L582.62 473.6L583.46 475.28L585.14 476.96L586.82 477.8M588.5 477.8L590.18 476.96L591.86 475.28L592.7 473.6L593.54 470.24L593.54 467.72L592.7 464.36L591.86 462.68L590.18 461L588.5 460.16M600.26 467.72L615.38 467.72M600.26 472.76L615.38 472.76M626.3 460.16L623.78 461L622.1 463.52L621.26 467.72L621.26 470.24L622.1 474.44L623.78 476.96L626.3 477.8L627.98 477.8L630.5 476.96L632.18 474.44L633.02 470.24L633.02 467.72L632.18 463.52L630.5 461L627.98 460.16L626.3 460.16M626.3 460.16L624.62 461L623.78 461.84L622.94 463.52L622.1 467.72L622.1 470.24L622.94 474.44L623.78 476.12L624.62 476.96L626.3 477.8M627.98 477.8L629.66 476.96L630.5 476.12L631.34 474.44L632.18 470.24L632.18 467.72L631.34 463.52L630.5 461.84L629.66 461L627.98 460.16M639.74 475.99L638.77 476.96L639.74 477.93L640.71 476.96L639.74 475.99M648.98 463.52L650.66 462.68L653.18 460.16L653.18 477.8M652.34 461L652.34 477.8M648.98 477.8L656.54 477.8M673.34 462.68L672.5 463.52L673.34 464.36L674.18 463.52L674.18 462.68L673.34 461L671.66 460.16L669.14 460.16L666.62 461L664.94 462.68L664.1 464.36L663.26 467.72L663.26 472.76L664.1 475.28L665.78 476.96L668.3 477.8L669.98 477.8L672.5 476.96L674.18 475.28L675.02 472.76L675.02 471.92L674.18 469.4L672.5 467.72L669.98 466.88L669.14 466.88L666.62 467.72L664.94 469.4L664.1 471.92M669.14 460.16L667.46 461L665.78 462.68L664.94 464.36L664.1 467.72L664.1 472.76L664.94 475.28L666.62 476.96L668.3 477.8M669.98 477.8L671.66 476.96L673.34 475.28L674.18 472.76L674.18 471.92L673.34 469.4L671.66 467.72L669.98 466.88" fill="none" stroke="#f00" stroke-width="1.5" stroke-linecap="round" stroke-linejoin="round"/>
<path d="M511.95 498.82L510.62 500.14L509.29 502.12L507.96 504.76L507.3 508.05L507.3 510.69L507.96 513.98L509.29 516.62L510.62 518.59L511.95 519.91M510.62 500.14L509.29 502.78L508.63 504.76L507.96 508.05L507.96 510.69L508.63 513.98L509.29 515.96L510.62 518.59M517.27 506.07L517.27 515.3M517.94 506.07L517.94 515.3M517.94 508.05L519.27 506.73L521.26 506.07L522.6 506.07L524.59 506.73L525.25 508.05L525.25 515.3M522.6 506.07L523.92 506.73L524.59 508.05L524.59 515.3M515.28 506.07L517.94 506.07M515.28 515.3L519.93 515.3M522.6 515.3L527.25 515.3M534.56 506.07L532.57 506.73L531.24 508.05L530.58 510.03L530.58 511.35L531.24 513.32L532.57 514.64L534.56 515.3L535.89 515.3L537.89 514.64L539.22 513.32L539.88 511.35L539.88 510.03L539.22 508.05L537.89 506.73L535.89 506.07L534.56 506.07M534.56 506.07L533.24 506.73L531.9 508.05L531.24 510.03L531.24 511.35L531.9 513.32L533.24 514.64L534.56 515.3M535.89 515.3L537.23 514.64L538.55 513.32L539.22 511.35L539.22 510.03L538.55 508.05L537.23 506.73L535.89 506.07M545.21 506.07L545.21 515.3M545.87 506.07L545.87 515.3M545.87 510.03L546.53 508.05L547.87 506.73L549.19 506.07L551.19 506.07L551.86 506.73L551.86 507.39L551.19 508.05L550.52 507.39L551.19 506.73M543.21 506.07L545.87 506.07M543.21 515.3L547.87 515.3M556.51 506.07L556.51 515.3M557.17 506.07L557.17 515.3M557.17 508.05L558.5 506.73L560.5 506.07L561.83 506.07L563.83 506.73L564.49 508.05L564.49 515.3M561.83 506.07L563.16 506.73L563.83 508.05L563.83 515.3M564.49 508.05L565.82 506.73L567.81 506.07L569.14 506.07L571.14 506.73L571.8 508.05L571.8 515.3M569.14 506.07L570.48 506.73L571.14 508.05L571.14 515.3M554.51 506.07L557.17 506.07M554.51 515.3L559.17 515.3M561.83 515.3L566.49 515.3M569.14 515.3L573.8 515.3M578.45 507.39L578.45 508.05L577.79 508.05L577.79 507.39L578.45 506.73L579.78 506.07L582.44 506.07L583.77 506.73L584.44 507.39L585.11 508.71L585.11 513.32L585.77 514.64L586.43 515.3M584.44 507.39L584.44 513.32L585.11 514.64L586.43 515.3L587.1 515.3M584.44 508.71L583.77 509.37L579.78 510.03L577.79 510.69L577.12 512L577.12 513.32L577.79 514.64L579.78 515.3L581.78 515.3L583.11 514.64L584.44 513.32M579.78 510.03L578.45 510.69L577.79 512L577.79 513.32L578.45 514.64L579.78 515.3M591.75 501.46L591.75 515.3M592.42 501.46L592.42 515.3M589.76 501.46L592.42 501.46M589.76 515.3L594.41 515.3M615.03 507.39L615.69 506.07L615.69 508.71L615.03 507.39L614.37 506.73L613.03 506.07L610.38 506.07L609.04 506.73L608.38 507.39L608.38 508.71L609.04 509.37L610.38 510.03L613.7 511.35L615.03 512L615.69 512.66M608.38 508.05L609.04 508.71L610.38 509.37L613.7 510.69L615.03 511.35L615.69 512L615.69 513.98L615.03 514.64L613.7 515.3L611.04 515.3L609.71 514.64L609.04 513.98L608.38 512.66L608.38 515.3L609.04 513.98M621.01 501.46L621.01 512.66L621.68 514.64L623.01 515.3L624.34 515.3L625.67 514.64L626.34 513.32M621.68 501.46L621.68 512.66L622.35 514.64L623.01 515.3M619.02 506.07L624.34 506.07M630.33 510.03L638.31 510.03L638.31 508.71L637.64 507.39L636.98 506.73L635.64 506.07L633.65 506.07L631.65 506.73L630.33 508.05L629.66 510.03L629.66 511.35L630.33 513.32L631.65 514.64L633.65 515.3L634.98 515.3L636.98 514.64L638.31 513.32M637.64 510.03L637.64 508.05L636.98 506.73M633.65 506.07L632.32 506.73L630.99 508.05L630.33 510.03L630.33 511.35L630.99 513.32L632.32 514.64L633.65 515.3M643.62 501.46L643.62 515.3M644.29 501.46L644.29 515.3M641.63 501.46L644.29 501.46M641.63 515.3L646.28 515.3M650.94 501.46L650.94 515.3M651.61 501.46L651.61 515.3M648.94 501.46L651.61 501.46M648.94 515.3L653.6 515.3M658.25 507.39L658.25 508.05L657.59 508.05L657.59 507.39L658.25 506.73L659.59 506.07L662.25 506.07L663.58 506.73L664.24 507.39L664.9 508.71L664.9 513.32L665.57 514.64L666.24 515.3M664.24 507.39L664.24 513.32L664.9 514.64L666.24 515.3L666.9 515.3M664.24 508.71L663.58 509.37L659.59 510.03L657.59 510.69L656.92 512L656.92 513.32L657.59 514.64L659.59 515.3L661.58 515.3L662.91 514.64L664.24 513.32M659.59 510.03L658.25 510.69L657.59 512L657.59 513.32L658.25 514.64L659.59 515.3M671.56 506.07L671.56 515.3M672.22 506.07L672.22 515.3M672.22 510.03L672.88 508.05L674.22 506.73L675.54 506.07L677.54 506.07L678.2 506.73L678.2 507.39L677.54 508.05L676.88 507.39L677.54 506.73M669.56 506.07L672.22 506.07M669.56 515.3L674.22 515.3M694.16 506.07L694.16 519.91M694.83 506.07L694.83 519.91M694.83 508.05L696.16 506.73L697.49 506.07L698.82 506.07L700.82 506.73L702.14 508.05L702.81 510.03L702.81 511.35L702.14 513.32L700.82 514.64L698.82 515.3L697.49 515.3L696.16 514.64L694.83 513.32M698.82 506.07L700.15 506.73L701.48 508.05L702.14 510.03L702.14 511.35L701.48 513.32L700.15 514.64L698.82 515.3M692.17 506.07L694.83 506.07M692.17 519.91L696.83 519.91M710.79 506.07L708.79 506.73L707.47 508.05L706.8 510.03L706.8 511.35L707.47 513.32L708.79 514.64L710.79 515.3L712.12 515.3L714.12 514.64L715.44 513.32L716.11 511.35L716.11 510.03L715.44 508.05L714.12 506.73L712.12 506.07L710.79 506.07M710.79 506.07L709.46 506.73L708.13 508.05L707.47 510.03L707.47 511.35L708.13 513.32L709.46 514.64L710.79 515.3M712.12 515.3L713.45 514.64L714.78 513.32L715.44 511.35L715.44 510.03L714.78 508.05L713.45 506.73L712.12 506.07M721.43 506.07L721.43 519.91M722.1 506.07L722.1 519.91M722.1 508.05L723.42 506.73L724.75 506.07L726.09 506.07L728.08 506.73L729.41 508.05L730.08 510.03L730.08 511.35L729.41 513.32L728.08 514.64L726.09 515.3L724.75 515.3L723.42 514.64L722.1 513.32M726.09 506.07L727.41 506.73L728.75 508.05L729.41 510.03L729.41 511.35L728.75 513.32L727.41 514.64L726.09 515.3M719.43 506.07L722.1 506.07M719.43 519.91L724.09 519.91M734.07 498.82L735.39 500.14L736.73 502.12L738.06 504.76L738.72 508.05L738.72 510.69L738.06 513.98L736.73 516.62L735.39 518.59L734.07 519.91M735.39 500.14L736.73 502.78L737.39 504.76L738.06 508.05L738.06 510.69L737.39 513.98L736.73 515.96L735.39 518.59" fill="none" stroke="#f00" stroke-width="1.45" stroke-linecap="round" stroke-linejoin="round"/>
</svg>
</body></html>
